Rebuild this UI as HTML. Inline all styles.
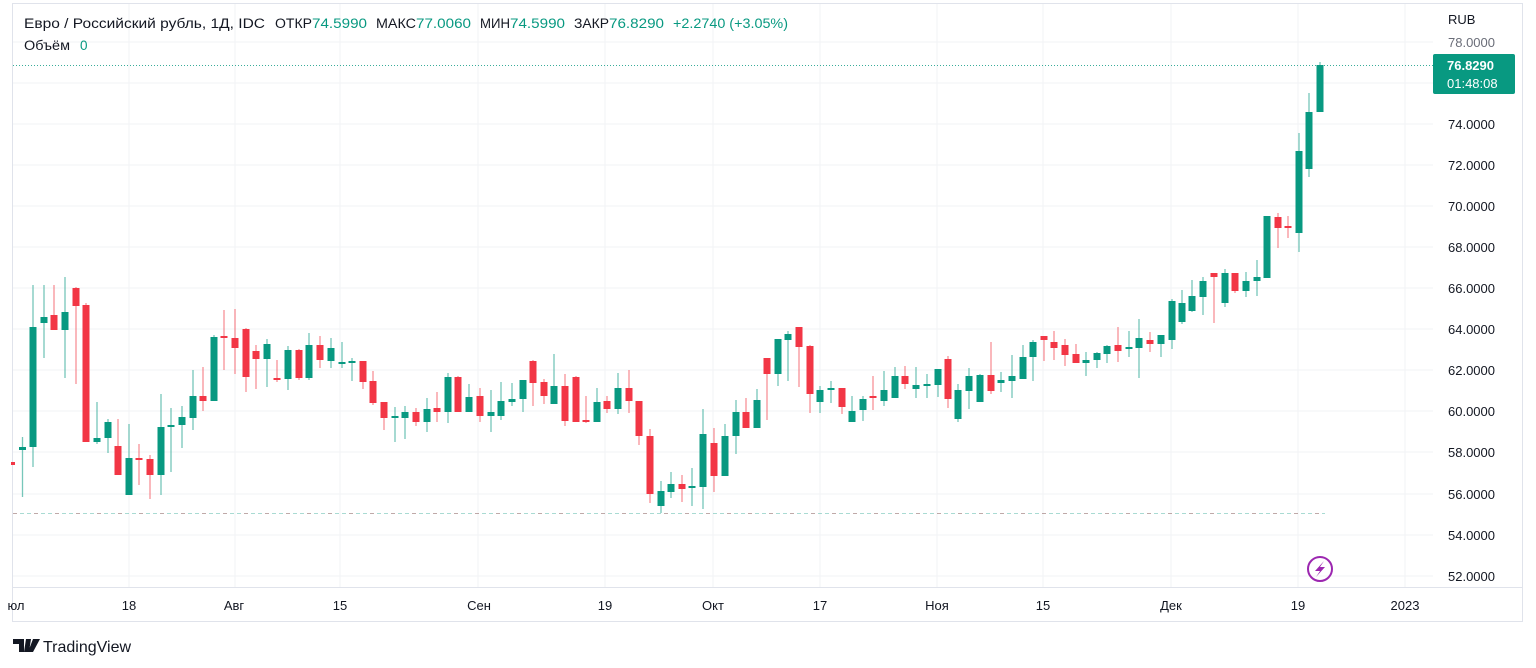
<!DOCTYPE html>
<html><head><meta charset="utf-8"><style>
body{margin:0;background:#fff;width:1536px;height:668px;overflow:hidden;font-family:"Liberation Sans","DejaVu Sans",sans-serif}
svg{position:absolute;left:0;top:0}
.g{fill:#089981}.r{fill:#f23645}
.wg{stroke:#089981;stroke-opacity:.55;stroke-width:1.3}.wr{stroke:#f23645;stroke-opacity:.55;stroke-width:1.3}
text{font-family:"Liberation Sans","DejaVu Sans",sans-serif}
</style></head><body>
<svg width="1536" height="668" viewBox="0 0 1536 668">
<rect x="12.5" y="3.5" width="1510" height="618" fill="none" stroke="#e0e3eb"/>
<line x1="12" y1="587.5" x2="1523" y2="587.5" stroke="#e0e3eb"/>
<g stroke="#f2f3f5">
<line x1="13" y1="42" x2="1433" y2="42"/><line x1="13" y1="83" x2="1433" y2="83"/><line x1="13" y1="124" x2="1433" y2="124"/><line x1="13" y1="165" x2="1433" y2="165"/><line x1="13" y1="206" x2="1433" y2="206"/><line x1="13" y1="247" x2="1433" y2="247"/><line x1="13" y1="288" x2="1433" y2="288"/><line x1="13" y1="329" x2="1433" y2="329"/><line x1="13" y1="370" x2="1433" y2="370"/><line x1="13" y1="411" x2="1433" y2="411"/><line x1="13" y1="452" x2="1433" y2="452"/><line x1="13" y1="494" x2="1433" y2="494"/><line x1="13" y1="535" x2="1433" y2="535"/><line x1="13" y1="576" x2="1433" y2="576"/>
<line x1="129" y1="4" x2="129" y2="587"/><line x1="235" y1="4" x2="235" y2="587"/><line x1="340" y1="4" x2="340" y2="587"/><line x1="478" y1="4" x2="478" y2="587"/><line x1="605" y1="4" x2="605" y2="587"/><line x1="713" y1="4" x2="713" y2="587"/><line x1="820" y1="4" x2="820" y2="587"/><line x1="937" y1="4" x2="937" y2="587"/><line x1="1043" y1="4" x2="1043" y2="587"/><line x1="1171" y1="4" x2="1171" y2="587"/><line x1="1298" y1="4" x2="1298" y2="587"/><line x1="1405" y1="4" x2="1405" y2="587"/>
</g>
<line x1="13" y1="513.5" x2="1325" y2="513.5" stroke="#089981" stroke-opacity=".35" stroke-dasharray="4 3"/>
<line x1="13" y1="513.5" x2="1325" y2="513.5" stroke="#f23645" stroke-opacity=".3" stroke-dasharray="4 17"/>
<line x1="13" y1="65.5" x2="1433" y2="65.5" stroke="#089981" stroke-opacity=".8" stroke-dasharray="1 2"/>
<path class="wg" d="M22.5 437V497M33 285V467M44 285V358M65 277V378M97 402V444M108 419V453M129 424V495M161 394V495M171 408V472M182 406V448M193 370V430M214 335V401M267 339V387M288 346V390M309 333V380M331 338V368M342 342V368M352 358V381M395 407V442M405 406V439M427 398V432M448 373V423M469 384V412M491 390V432M501 382V420M512 383V406M523 380V412M554 354V404M597 388V422M618 373V414M661 481V513M671 472V498M692 468V506M703 409V509M725 424V476M736 400V454M757 389V428M778 339V386M788 331V381M820 386V413M831 381V403M852 396V422M863 396V421M884 371V406M895 367V398M916 367V398M927 374V398M938 369V397M958 384V422M969 368V409M980 374V402M1001 372V392M1012 355V398M1023 345V379M1033 340V381M1086 352V376M1097 352V368M1107 345V363M1129 331V357M1139 319V378M1161 335V357M1172 299V349M1182 290V324M1192 280V312M1203 277V315M1225 269V307M1246 272V297M1257 260V296M1267 216V278M1299 133V252M1309 93V177M1320 62V112"/>
<path class="wr" d="M54 285V330M76 287V384M86 303V442M118 419V475M139 444V485M150 455V499M203 367V411M224 310V370M235 309V374M246 328V392M256 345V389M277 360V382M299 349V380M320 336V368M363 361V389M373 371V405M384 402V430M416 408V426M437 392V422M458 376V412M480 388V422M533 360V406M544 379V404M565 374V426M576 376V422M586 396V423M607 396V413M629 370V413M639 401V445M650 429V503M682 475V502M714 428V492M746 398V428M767 358V420M799 327V387M810 345V413M842 388V414M873 376V410M905 366V389M948 356V408M991 342V394M1044 336V361M1054 331V360M1065 339V366M1076 344V363M1118 327V362M1150 332V352M1214 273V323M1235 273V293M1278 213V248M1288 216V238"/>
<g class="g">
<rect x="19" y="447" width="7" height="3"/><rect x="29.5" y="327" width="7" height="120"/><rect x="40.5" y="317" width="7" height="6"/><rect x="61.5" y="312" width="7" height="18"/><rect x="93.5" y="438" width="7" height="4"/><rect x="104.5" y="422" width="7" height="16"/><rect x="125.5" y="458" width="7" height="37"/><rect x="157.5" y="427" width="7" height="48"/><rect x="167.5" y="425" width="7" height="2"/><rect x="178.5" y="417" width="7" height="8"/><rect x="189.5" y="396" width="7" height="22"/><rect x="210.5" y="337" width="7" height="64"/><rect x="263.5" y="344" width="7" height="15"/><rect x="284.5" y="350" width="7" height="29"/><rect x="305.5" y="345" width="7" height="33"/><rect x="327.5" y="348" width="7" height="13"/><rect x="338.5" y="362" width="7" height="2"/><rect x="348.5" y="361" width="7" height="2"/><rect x="391.5" y="416" width="7" height="2"/><rect x="401.5" y="412" width="7" height="6"/><rect x="423.5" y="409" width="7" height="13"/><rect x="444.5" y="377" width="7" height="35"/><rect x="465.5" y="397" width="7" height="15"/><rect x="487.5" y="412" width="7" height="4"/><rect x="497.5" y="401" width="7" height="15"/><rect x="508.5" y="399" width="7" height="3"/><rect x="519.5" y="380" width="7" height="19"/><rect x="550.5" y="386" width="7" height="18"/><rect x="593.5" y="402" width="7" height="20"/><rect x="614.5" y="388" width="7" height="21"/><rect x="657.5" y="491" width="7" height="15"/><rect x="667.5" y="484" width="7" height="8"/><rect x="688.5" y="486" width="7" height="2"/><rect x="699.5" y="434" width="7" height="53"/><rect x="721.5" y="436" width="7" height="40"/><rect x="732.5" y="412" width="7" height="24"/><rect x="753.5" y="400" width="7" height="28"/><rect x="774.5" y="339" width="7" height="35"/><rect x="784.5" y="334" width="7" height="6"/><rect x="816.5" y="390" width="7" height="12"/><rect x="827.5" y="388" width="7" height="2"/><rect x="848.5" y="411" width="7" height="11"/><rect x="859.5" y="399" width="7" height="11"/><rect x="880.5" y="390" width="7" height="11"/><rect x="891.5" y="376" width="7" height="22"/><rect x="912.5" y="385" width="7" height="4"/><rect x="923.5" y="384" width="7" height="2"/><rect x="934.5" y="369" width="7" height="16"/><rect x="954.5" y="390" width="7" height="29"/><rect x="965.5" y="376" width="7" height="15"/><rect x="976.5" y="375" width="7" height="27"/><rect x="997.5" y="380" width="7" height="3"/><rect x="1008.5" y="376" width="7" height="5"/><rect x="1019.5" y="357" width="7" height="22"/><rect x="1029.5" y="342" width="7" height="15"/><rect x="1082.5" y="360" width="7" height="3"/><rect x="1093.5" y="353" width="7" height="7"/><rect x="1103.5" y="346" width="7" height="8"/><rect x="1125.5" y="347" width="7" height="2"/><rect x="1135.5" y="338" width="7" height="10"/><rect x="1157.5" y="335" width="7" height="9"/><rect x="1168.5" y="301" width="7" height="39"/><rect x="1178.5" y="303" width="7" height="19"/><rect x="1188.5" y="296" width="7" height="15"/><rect x="1199.5" y="281" width="7" height="16"/><rect x="1221.5" y="273" width="7" height="30"/><rect x="1242.5" y="281" width="7" height="10"/><rect x="1253.5" y="277" width="7" height="4"/><rect x="1263.5" y="216" width="7" height="62"/><rect x="1295.5" y="151" width="7" height="82"/><rect x="1305.5" y="112" width="7" height="57"/><rect x="1316.5" y="65" width="7" height="47"/>
</g>
<g class="r">
<rect x="11" y="462" width="4" height="3"/><rect x="50.5" y="315" width="7" height="15"/><rect x="72.5" y="288" width="7" height="18"/><rect x="82.5" y="305" width="7" height="137"/><rect x="114.5" y="446" width="7" height="29"/><rect x="135.5" y="458" width="7" height="2"/><rect x="146.5" y="459" width="7" height="16"/><rect x="199.5" y="396" width="7" height="5"/><rect x="220.5" y="336" width="7" height="2"/><rect x="231.5" y="338" width="7" height="10"/><rect x="242.5" y="329" width="7" height="48"/><rect x="252.5" y="351" width="7" height="8"/><rect x="273.5" y="378" width="7" height="2"/><rect x="295.5" y="350" width="7" height="28"/><rect x="316.5" y="345" width="7" height="15"/><rect x="359.5" y="361" width="7" height="21"/><rect x="369.5" y="381" width="7" height="22"/><rect x="380.5" y="402" width="7" height="16"/><rect x="412.5" y="412" width="7" height="10"/><rect x="433.5" y="408" width="7" height="4"/><rect x="454.5" y="377" width="7" height="35"/><rect x="476.5" y="396" width="7" height="20"/><rect x="529.5" y="361" width="7" height="22"/><rect x="540.5" y="382" width="7" height="14"/><rect x="561.5" y="386" width="7" height="35"/><rect x="572.5" y="377" width="7" height="45"/><rect x="582.5" y="420" width="7" height="2"/><rect x="603.5" y="401" width="7" height="8"/><rect x="625.5" y="388" width="7" height="13"/><rect x="635.5" y="401" width="7" height="35"/><rect x="646.5" y="436" width="7" height="58"/><rect x="678.5" y="484" width="7" height="5"/><rect x="710.5" y="443" width="7" height="33"/><rect x="742.5" y="412" width="7" height="16"/><rect x="763.5" y="358" width="7" height="16"/><rect x="795.5" y="327" width="7" height="20"/><rect x="806.5" y="346" width="7" height="48"/><rect x="838.5" y="388" width="7" height="19"/><rect x="869.5" y="396" width="7" height="2"/><rect x="901.5" y="376" width="7" height="8"/><rect x="944.5" y="359" width="7" height="40"/><rect x="987.5" y="375" width="7" height="16"/><rect x="1040.5" y="336" width="7" height="4"/><rect x="1050.5" y="342" width="7" height="6"/><rect x="1061.5" y="345" width="7" height="10"/><rect x="1072.5" y="354" width="7" height="9"/><rect x="1114.5" y="345" width="7" height="6"/><rect x="1146.5" y="340" width="7" height="4"/><rect x="1210.5" y="273" width="7" height="4"/><rect x="1231.5" y="273" width="7" height="18"/><rect x="1274.5" y="217" width="7" height="11"/><rect x="1284.5" y="226" width="7" height="2"/>
</g>
<circle cx="1320" cy="569" r="12" fill="none" stroke="#9c27b0" stroke-width="2"/>
<path d="M1324 561L1315 571L1320 571L1316 577L1325 567L1320 567Z" fill="#9c27b0"/>
<g font-size="13" fill="#131722">
<text x="1448" y="24">RUB</text>
<g fill="#6a6d78"><text x="1448" y="47">78.0000</text></g>
<text x="1448" y="129">74.0000</text><text x="1448" y="170">72.0000</text><text x="1448" y="211">70.0000</text><text x="1448" y="252">68.0000</text><text x="1448" y="293">66.0000</text><text x="1448" y="334">64.0000</text><text x="1448" y="375">62.0000</text><text x="1448" y="416">60.0000</text><text x="1448" y="457">58.0000</text><text x="1448" y="499">56.0000</text><text x="1448" y="540">54.0000</text><text x="1448" y="581">52.0000</text>
</g>
<rect x="1433" y="54" width="82" height="40" rx="2" fill="#089981"/>
<text x="1447" y="70" font-size="13" font-weight="bold" fill="#fff">76.8290</text>
<text x="1447" y="88" font-size="13" fill="#fff">01:48:08</text>
<g font-size="13" fill="#131722" text-anchor="middle">
<text x="16" y="610">юл</text><text x="129" y="610">18</text><text x="234" y="610">Авг</text><text x="340" y="610">15</text><text x="479" y="610">Сен</text><text x="605" y="610">19</text><text x="713" y="610">Окт</text><text x="820" y="610">17</text><text x="937" y="610">Ноя</text><text x="1043" y="610">15</text><text x="1171" y="610">Дек</text><text x="1298" y="610">19</text><text x="1405" y="610">2023</text>
</g>
<g font-size="13.5" fill="#131722">
<text x="24" y="28" textLength="241" lengthAdjust="spacingAndGlyphs">Евро / Российский рубль, 1Д, IDC</text>
<text x="275" y="28" textLength="37" lengthAdjust="spacingAndGlyphs">ОТКР</text>
<text x="312" y="28" fill="#089981" textLength="55" lengthAdjust="spacingAndGlyphs">74.5990</text>
<text x="376" y="28" textLength="40" lengthAdjust="spacingAndGlyphs">МАКС</text>
<text x="416" y="28" fill="#089981" textLength="55" lengthAdjust="spacingAndGlyphs">77.0060</text>
<text x="480" y="28" textLength="30" lengthAdjust="spacingAndGlyphs">МИН</text>
<text x="510" y="28" fill="#089981" textLength="55" lengthAdjust="spacingAndGlyphs">74.5990</text>
<text x="574" y="28" textLength="35" lengthAdjust="spacingAndGlyphs">ЗАКР</text>
<text x="609" y="28" fill="#089981" textLength="55" lengthAdjust="spacingAndGlyphs">76.8290</text>
<text x="673" y="28" fill="#089981" textLength="115" lengthAdjust="spacingAndGlyphs">+2.2740 (+3.05%)</text>
<text x="24" y="50" textLength="46" lengthAdjust="spacingAndGlyphs">Объём</text>
<text x="80" y="50" fill="#089981">0</text>
</g>
<path d="M13 639H24V652H19V644H13Z M26 639H31L29 652H24Z M33 639H40L33 652H28Z" fill="#131722"/>
<text x="43" y="652" font-size="16" fill="#131722">TradingView</text>
</svg>
</body></html>
